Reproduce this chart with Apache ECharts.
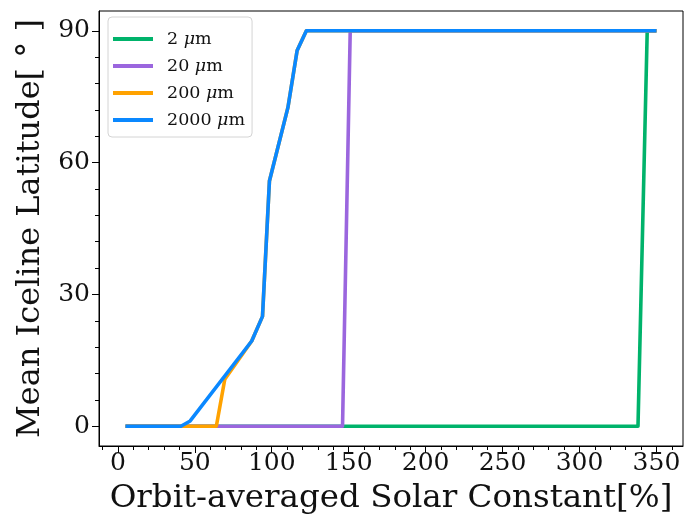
<!DOCTYPE html>
<html>
<head>
<meta charset="utf-8">
<script src="https://cdn.jsdelivr.net/npm/echarts@6/dist/echarts.min.js"></script>
<style>
  html, body { margin: 0; padding: 0; background: #fff; }
  #chart { width: 690px; height: 523px; }
</style>
</head>
<body>
<div id="chart"></div>
<script>
// Mean iceline latitude versus orbit-averaged solar constant, per grain size
const seriesNames = ['2 μm', '20 μm', '200 μm', '2000 μm'];

const solar2 = [5, 338, 344, 350];
const lat2   = [0, 0, 90, 90];

const solar20 = [5, 146, 151, 350];
const lat20   = [0, 0, 90, 90];

const solar200 = [5, 41, 64, 69.5, 87, 94, 98.5, 110.5, 116.5, 122.5, 350];
const lat200   = [0, 0, 0, 10.7, 19.4, 25, 55.8, 72.5, 85.5, 90, 90];

const solar2000 = [5, 41, 47, 87, 94, 98.5, 110.5, 116.5, 122.5, 350];
const lat2000   = [0, 0, 1.2, 19.4, 25, 55.8, 72.5, 85.5, 90, 90];

const xTicks = [0, 50, 100, 150, 200, 250, 300, 350];
const xMinorTicks = [-10, 10, 20, 30, 40, 60, 70, 80, 90, 110, 120, 130, 140, 160, 170, 180, 190,
  210, 220, 230, 240, 260, 270, 280, 290, 310, 320, 330, 340, 360];
const yTicks = [0, 30, 60, 90];
const yMinorTicks = [6, 12, 18, 24, 36, 42, 48, 54, 66, 72, 78, 84];

const colors = ['#00b36b', '#9b66de', '#ffa200', '#0a88ff'];

const pairs = (xs, ys) => xs.map((x, i) => [x, ys[i]]);

const X_MIN = -12.25, X_MAX = 367.25, Y_MIN = -4.5, Y_MAX = 94.5;
const FONT = 'DejaVu Serif';

const chart = echarts.init(document.getElementById('chart'), null, { renderer: 'canvas' });

const lineSeries = (name, data, color) => ({
  name, type: 'line', data, xAxisIndex: 0, yAxisIndex: 0,
  showSymbol: false, symbol: 'none',
  lineStyle: { color, width: 3.6, join: 'round', cap: 'butt' },
  itemStyle: { color },
  emphasis: { disabled: true }
});

chart.setOption({
  animation: false,
  backgroundColor: '#ffffff',
  grid: { left: 99, right: 7, top: 11, bottom: 77, show: true, borderColor: '#000', borderWidth: 1 },
  legend: {
    left: 108, top: 17,
    orient: 'vertical',
    padding: [12, 7, 7, 5],
    itemGap: 7,
    itemWidth: 40, itemHeight: 4,
    icon: 'rect',
    backgroundColor: 'rgba(255,255,255,0.85)',
    borderColor: '#d4d4d4', borderWidth: 1, borderRadius: 4,
    data: seriesNames,
    formatter: (name) => {
      const parts = name.split('μ');
      return '{lead|' + parts[0] + '}{mu|μ}{n|' + parts[1] + '}';
    },
    textStyle: {
      rich: {
        lead: { fontFamily: FONT, fontSize: 17.5, color: '#111', height: 20, lineHeight: 20, padding: [0, 0, 0, 9] },
        n: { fontFamily: FONT, fontSize: 17.5, color: '#111', height: 20, lineHeight: 20 },
        mu: { fontFamily: FONT, fontSize: 17.5, fontStyle: 'italic', color: '#111', height: 20, lineHeight: 20 }
      }
    }
  },
  xAxis: [
    {
      type: 'value', min: X_MIN, max: X_MAX, position: 'bottom',
      name: 'Orbit-averaged Solar Constant[%]', nameLocation: 'middle', nameGap: 36,
      nameTextStyle: { fontFamily: FONT, fontSize: 32.5, color: '#111' },
      axisLine: { show: true, onZero: false, lineStyle: { color: '#000', width: 1 } },
      axisTick: { show: true, inside: false, length: 7, customValues: xTicks, lineStyle: { color: '#000', width: 1 } },
      axisLabel: { show: true, customValues: xTicks, margin: 5, fontFamily: FONT, fontSize: 25, color: '#111' },
      splitLine: { show: false }
    },
    {
      type: 'value', min: X_MIN, max: X_MAX, position: 'bottom', gridIndex: 0,
      axisLine: { show: false, onZero: false },
      axisTick: { show: true, inside: false, length: 4, customValues: xMinorTicks, lineStyle: { color: '#000', width: 1 } },
      axisLabel: { show: false },
      splitLine: { show: false }
    }
  ],
  yAxis: [
    {
      type: 'value', min: Y_MIN, max: Y_MAX, position: 'left',
      name: 'Mean Iceline Latitude[ ° ]', nameLocation: 'middle', nameGap: 52,
      nameTextStyle: { fontFamily: FONT, fontSize: 32, color: '#111' },
      axisLine: { show: true, onZero: false, lineStyle: { color: '#000', width: 1 } },
      axisTick: { show: true, inside: false, length: 7, customValues: yTicks, lineStyle: { color: '#000', width: 1 } },
      axisLabel: { show: true, customValues: yTicks, margin: 9, fontFamily: FONT, fontSize: 25, color: '#111' },
      splitLine: { show: false }
    },
    {
      type: 'value', min: Y_MIN, max: Y_MAX, position: 'left', gridIndex: 0,
      axisLine: { show: false, onZero: false },
      axisTick: { show: true, inside: false, length: 4, customValues: yMinorTicks, lineStyle: { color: '#000', width: 1 } },
      axisLabel: { show: false },
      splitLine: { show: false }
    }
  ],
  series: [
    lineSeries(seriesNames[0], pairs(solar2, lat2), colors[0]),
    lineSeries(seriesNames[1], pairs(solar20, lat20), colors[1]),
    lineSeries(seriesNames[2], pairs(solar200, lat200), colors[2]),
    lineSeries(seriesNames[3], pairs(solar2000, lat2000), colors[3])
  ]
});
</script>
</body>
</html>
